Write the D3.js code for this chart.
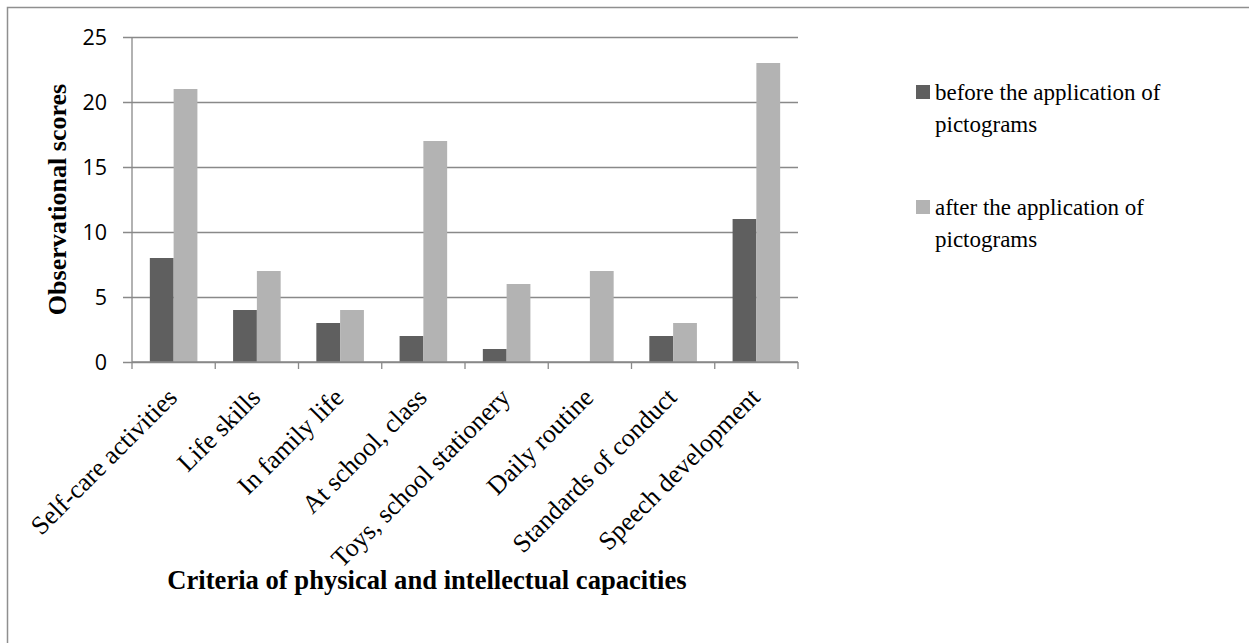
<!DOCTYPE html>
<html>
<head>
<meta charset="utf-8">
<script src="https://cdn.jsdelivr.net/npm/d3@7"></script>
<style>
  html, body { margin: 0; padding: 0; background: #fff; }
  svg { display: block; }
</style>
</head>
<body>
<svg id="chart" width="1249" height="643"></svg>
<script>
// Criteria observed, scores before and after introducing pictograms
const categories = [
  "Self-care activities", "Life skills", "In family life", "At school, class",
  "Toys, school stationery", "Daily routine", "Standards of conduct", "Speech development"
];
const seriesNames = [
  "before the application of pictograms",
  "after the application of pictograms"
];
const beforeValues = [8, 4, 3, 2, 1, 0, 2, 11];
const afterValues = [21, 7, 4, 17, 6, 7, 3, 23];
const yTicks = [0, 5, 10, 15, 20, 25];
const legendLines = [
  ["before the application of", "pictograms"],
  ["after the application of", "pictograms"]
];

const colors = ["#5f5f5f", "#b3b3b3"];
const axisColor = "#898989";
const serif = "'Liberation Serif', 'Times New Roman', 'DejaVu Serif', serif";
const sans = "'Open Sans', 'Liberation Sans', sans-serif";

const svg = d3.select("#chart");

// Outer frame (open to the right and bottom)
svg.append("path")
  .attr("d", "M7.5,643 L7.5,7.5 L1249,7.5")
  .attr("fill", "none").attr("stroke", "#8f8f8f").attr("stroke-width", 1.5);

const plot = { left: 132, right: 798, top: 37, bottom: 362 };

const x = d3.scaleBand().domain(categories).range([plot.left, plot.right]).paddingInner(0).paddingOuter(0);
const xs = d3.scaleBand().domain(seriesNames).range([0, x.bandwidth()]).paddingInner(0).paddingOuter(0.75);
const y = d3.scaleLinear().domain([0, 25]).range([plot.bottom, plot.top]);

// Horizontal gridlines with left tick marks
const yAxis = d3.axisLeft(y).tickValues(yTicks).tickSize(-(plot.right - plot.left)).tickSizeOuter(0);
const gy = svg.append("g").attr("transform", `translate(${plot.left},0)`).call(yAxis);
gy.select(".domain").remove();
gy.selectAll(".tick line").attr("stroke", axisColor).attr("stroke-width", 1.3).attr("x1", -9);
gy.selectAll(".tick text")
  .attr("font-family", sans).attr("font-size", 21.5).attr("fill", "#000")
  .attr("x", -25).attr("dy", "0.34em");

// Vertical axis line
svg.append("line")
  .attr("x1", plot.left).attr("x2", plot.left)
  .attr("y1", y(25)).attr("y2", y(0))
  .attr("stroke", axisColor).attr("stroke-width", 1.3);

// Bars
const data = categories.map((c, i) => ({ cat: c, vals: [beforeValues[i], afterValues[i]] }));
const groups = svg.append("g").selectAll("g").data(data).join("g")
  .attr("transform", d => `translate(${x(d.cat)},0)`);
groups.selectAll("rect")
  .data(d => d.vals.map((v, k) => ({ name: seriesNames[k], v, k })))
  .join("rect")
  .attr("x", d => xs(d.name))
  .attr("width", xs.bandwidth())
  .attr("y", d => y(d.v))
  .attr("height", d => y(0) - y(d.v))
  .attr("fill", d => colors[d.k]);

// Category axis with boundary ticks
const gx = svg.append("g").attr("transform", `translate(0,${plot.bottom})`);
gx.append("line")
  .attr("x1", plot.left).attr("x2", plot.right)
  .attr("stroke", axisColor).attr("stroke-width", 1.3);
const bounds = categories.map(c => x(c)).concat([plot.right]);
gx.selectAll("line.tk").data(bounds).join("line").attr("class", "tk")
  .attr("x1", d => d).attr("x2", d => d).attr("y1", 0).attr("y2", 7)
  .attr("stroke", axisColor).attr("stroke-width", 1.3);

// Rotated category labels
svg.append("g").selectAll("text").data(categories).join("text")
  .attr("transform", d => `translate(${x(d) + x.bandwidth() / 2 + 5},${plot.bottom + 37}) rotate(-45)`)
  .attr("text-anchor", "end")
  .attr("font-family", serif).attr("font-size", 26).attr("fill", "#000")
  .text(d => d);

// Axis titles
svg.append("text")
  .attr("transform", `translate(66,${(plot.top + plot.bottom) / 2}) rotate(-90)`)
  .attr("text-anchor", "middle")
  .attr("font-family", serif).attr("font-weight", "bold").attr("font-size", 26)
  .text("Observational scores");

svg.append("text")
  .attr("x", 427).attr("y", 589)
  .attr("text-anchor", "middle")
  .attr("font-family", serif).attr("font-weight", "bold").attr("font-size", 26.6)
  .text("Criteria of physical and intellectual capacities");

// Legend
const legendTop = [85, 200];
const lg = svg.append("g").selectAll("g").data(seriesNames).join("g")
  .attr("transform", (d, i) => `translate(916,${legendTop[i]})`);
lg.append("rect").attr("width", 14).attr("height", 14).attr("fill", (d, i) => colors[i]);
lg.each(function (d, i) {
  const t = d3.select(this).append("text")
    .attr("font-family", serif).attr("font-size", 23).attr("fill", "#000");
  legendLines[i].forEach((line, j) => {
    t.append("tspan").attr("x", 19).attr("y", 15 + j * 32).text(line);
  });
});
</script>
</body>
</html>
